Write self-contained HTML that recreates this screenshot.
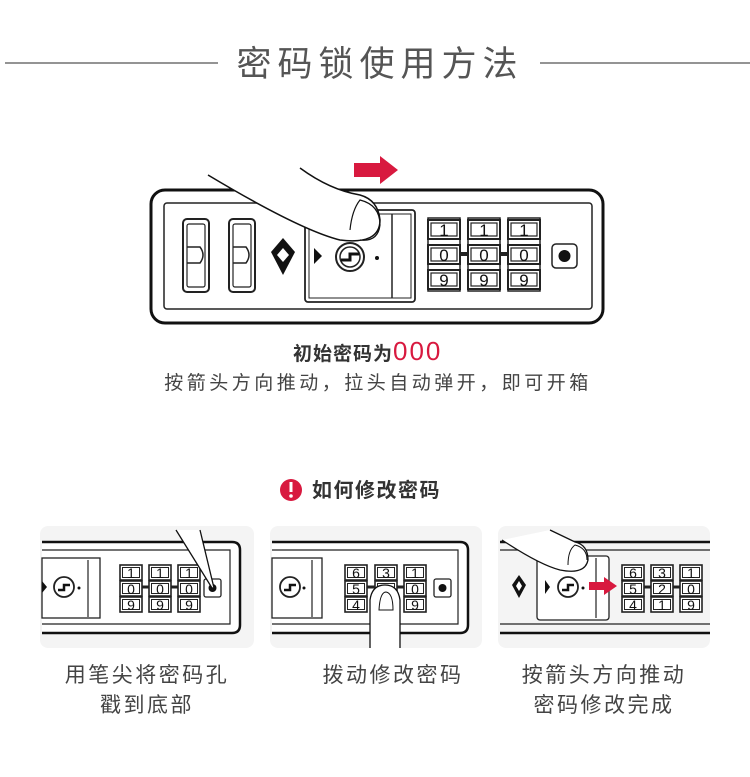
<!DOCTYPE html>
<html><head><meta charset="utf-8"><style>
body{margin:0;background:#fff;}
svg{display:block;font-family:"Liberation Sans","Noto Sans CJK SC",sans-serif;}
</style></head><body>
<svg width="750" height="777" viewBox="0 0 750 777">
<defs>
<g id="cell"><rect x="0" y="0" width="32" height="19" fill="#fff" stroke="#222" stroke-width="2"/><rect x="3" y="3" width="26" height="13" fill="#fff" stroke="#222" stroke-width="1.2"/></g>
<g id="scell"><rect x="0" y="0" width="22" height="15" fill="#fff" stroke="#222" stroke-width="1.6"/><rect x="2.5" y="2.5" width="17" height="10" fill="#fff" stroke="#222" stroke-width="1"/></g>
</defs>
<line x1="5" y1="63" x2="218" y2="63" stroke="#555" stroke-width="1.2"/>
<line x1="540" y1="63" x2="750" y2="63" stroke="#555" stroke-width="1.2"/>
<text x="380" y="76" text-anchor="middle" font-size="35" fill="#555" letter-spacing="6">密码锁使用方法</text>

<polygon points="354,163 380,163 380,156 398,170 380,184 380,177 354,177" fill="#d8193f"/>

<rect x="151" y="190" width="452" height="133" rx="14" fill="#fff" stroke="#111" stroke-width="3"/>
<rect x="164" y="203" width="428" height="106" rx="3" fill="none" stroke="#222" stroke-width="1.5"/>
<rect x="183" y="219" width="26" height="73" rx="4" fill="#fff" stroke="#222" stroke-width="2"/>
<rect x="187" y="224" width="18" height="63" rx="2" fill="none" stroke="#222" stroke-width="1.2"/>
<path d="M187 247 H200 Q206 255 200 263 H187" fill="none" stroke="#222" stroke-width="1.5"/>
<rect x="229" y="219" width="26" height="73" rx="4" fill="#fff" stroke="#222" stroke-width="2"/>
<rect x="233" y="224" width="18" height="63" rx="2" fill="none" stroke="#222" stroke-width="1.2"/>
<path d="M233 247 H246 Q252 255 246 263 H233" fill="none" stroke="#222" stroke-width="1.5"/>
<polygon points="283,238 295,252 283,275 271,252" fill="#111"/>
<polygon points="283,248 289,255 283,262 277,255" fill="#fff"/>
<rect x="305" y="210" width="110" height="92" rx="3" fill="#fff" stroke="#222" stroke-width="1.8"/>
<rect x="309" y="214" width="102" height="84" fill="none" stroke="#222" stroke-width="1"/>
<line x1="392" y1="214" x2="392" y2="298" stroke="#222" stroke-width="1.5"/>
<polygon points="314,248 322,256 314,264" fill="#111"/>
<circle cx="350" cy="257" r="14" fill="#fff" stroke="#222" stroke-width="2"/>
<circle cx="350" cy="257" r="10" fill="#fff" stroke="#222" stroke-width="1.5"/>
<path d="M341 260 H350 V254 H359" fill="none" stroke="#111" stroke-width="3"/>
<circle cx="377" cy="258" r="2" fill="#111"/>
<path d="M208 175 Q300 230 340 240 Q380 245 380 220 Q378 200 360 195 Q330 190 300 168" fill="#fff" stroke="#111" stroke-width="1.5"/>
<path d="M350 230 Q352 210 360 200 Q380 205 380 225 Q378 242 360 240" fill="none" stroke="#111" stroke-width="1.2"/>
<line x1="455" y1="254" x2="474" y2="254" stroke="#222" stroke-width="4"/>
<line x1="495" y1="254" x2="514" y2="254" stroke="#222" stroke-width="4"/>
<rect x="428" y="218" width="32" height="73" fill="#fff" stroke="#222" stroke-width="1.5"/>
<rect x="468" y="218" width="32" height="73" fill="#fff" stroke="#222" stroke-width="1.5"/>
<rect x="508" y="218" width="32" height="73" fill="#fff" stroke="#222" stroke-width="1.5"/>
<use href="#cell" x="428" y="220"/><use href="#cell" x="428" y="245"/><use href="#cell" x="428" y="270"/>
<use href="#cell" x="468" y="220"/><use href="#cell" x="468" y="245"/><use href="#cell" x="468" y="270"/>
<use href="#cell" x="508" y="220"/><use href="#cell" x="508" y="245"/><use href="#cell" x="508" y="270"/>
<g font-size="17" text-anchor="middle" fill="#111">
<text x="444" y="236">1</text><text x="484" y="236">1</text><text x="524" y="236">1</text>
<text x="444" y="261">0</text><text x="484" y="261">0</text><text x="524" y="261">0</text>
<text x="444" y="286">9</text><text x="484" y="286">9</text><text x="524" y="286">9</text>
</g>
<rect x="552" y="244" width="25" height="24" rx="4" fill="#fff" stroke="#222" stroke-width="1.5"/>
<circle cx="564.5" cy="256" r="6" fill="#111"/>

<text x="293" y="360" font-size="19" font-weight="bold" fill="#333" letter-spacing="1">初始密码为<tspan fill="#d8193f" font-weight="normal" font-size="26" letter-spacing="2">000</tspan></text>
<text x="378" y="389" text-anchor="middle" font-size="19" fill="#444" letter-spacing="3.5">按箭头方向推动，拉头自动弹开，即可开箱</text>

<circle cx="291" cy="490" r="11" fill="#d8193f"/>
<rect x="289.5" y="482" width="3" height="10" fill="#fff"/><circle cx="291" cy="496" r="1.8" fill="#fff"/>
<text x="312" y="497" font-size="20" font-weight="bold" fill="#333" letter-spacing="1.5">如何修改密码</text>

<rect x="40" y="526" width="214" height="122" rx="8" fill="#f4f4f4"/>
<rect x="270" y="526" width="212" height="122" rx="8" fill="#f4f4f4"/>
<rect x="498" y="526" width="212" height="122" rx="8" fill="#f4f4f4"/>

<g>
<path d="M42 542 H232 Q240 542 240 550 V625 Q240 633 232 633 H42" fill="#fff" stroke="#111" stroke-width="2.5"/>
<path d="M42 550 H230 V624 H42" fill="none" stroke="#222" stroke-width="1.2"/>
<rect x="42" y="558" width="58" height="60" fill="none" stroke="#222" stroke-width="1.3"/>
<line x1="88" y1="560" x2="88" y2="617" stroke="#222" stroke-width="1.2"/>
<polygon points="42,581 47,587 42,593" fill="#111"/>
<circle cx="64" cy="587" r="10" fill="#fff" stroke="#222" stroke-width="1.8"/>
<path d="M58 590 H64 V585 H70" fill="none" stroke="#111" stroke-width="2.5"/>
<circle cx="79" cy="588" r="1.5" fill="#111"/>
<line x1="140" y1="587" x2="152" y2="587" stroke="#222" stroke-width="3"/>
<line x1="170" y1="587" x2="180" y2="587" stroke="#222" stroke-width="3"/>
<use href="#scell" x="120" y="565"/><use href="#scell" x="120" y="581"/><use href="#scell" x="120" y="597"/>
<use href="#scell" x="149" y="565"/><use href="#scell" x="149" y="581"/><use href="#scell" x="149" y="597"/>
<use href="#scell" x="178" y="565"/><use href="#scell" x="178" y="581"/><use href="#scell" x="178" y="597"/>
<g font-size="14" text-anchor="middle" fill="#111">
<text x="131" y="578">1</text><text x="160" y="578">1</text><text x="189" y="578">1</text>
<text x="131" y="594">0</text><text x="160" y="594">0</text><text x="189" y="594">0</text>
<text x="131" y="610">9</text><text x="160" y="610">9</text><text x="189" y="610">9</text>
</g>
<rect x="204" y="579" width="17" height="18" rx="2" fill="#fff" stroke="#222" stroke-width="1.3"/>
<circle cx="212.5" cy="588" r="4" fill="#111"/>
<path d="M176 530 L212 588 L214 588 L200 530" fill="#fff" stroke="#111" stroke-width="1.3"/>
</g>

<g>
<path d="M272 542 H460 Q468 542 468 550 V625 Q468 633 460 633 H272" fill="#fff" stroke="#111" stroke-width="2.5"/>
<path d="M272 550 H458 V624 H272" fill="none" stroke="#222" stroke-width="1.2"/>
<rect x="272" y="558" width="50" height="60" fill="none" stroke="#222" stroke-width="1.3"/>
<line x1="312" y1="560" x2="312" y2="617" stroke="#222" stroke-width="1.2"/>
<circle cx="290" cy="587" r="10" fill="#fff" stroke="#222" stroke-width="1.8"/>
<path d="M284 590 H290 V585 H296" fill="none" stroke="#111" stroke-width="2.5"/>
<circle cx="304" cy="588" r="1.5" fill="#111"/>
<line x1="365" y1="587" x2="378" y2="587" stroke="#222" stroke-width="3"/>
<line x1="395" y1="587" x2="406" y2="587" stroke="#222" stroke-width="3"/>
<use href="#scell" x="345" y="565"/><use href="#scell" x="345" y="581"/><use href="#scell" x="345" y="597"/>
<use href="#scell" x="375" y="565"/><use href="#scell" x="375" y="581"/><use href="#scell" x="375" y="597"/>
<use href="#scell" x="404" y="565"/><use href="#scell" x="404" y="581"/><use href="#scell" x="404" y="597"/>
<g font-size="14" text-anchor="middle" fill="#111">
<text x="356" y="578">6</text><text x="386" y="578">3</text><text x="415" y="578">1</text>
<text x="356" y="594">5</text><text x="386" y="594">2</text><text x="415" y="594">0</text>
<text x="356" y="610">4</text><text x="415" y="610">9</text>
</g>
<rect x="434" y="579" width="17" height="18" rx="2" fill="#fff" stroke="#222" stroke-width="1.3"/>
<circle cx="442.5" cy="588" r="4" fill="#111"/>
<path d="M370 648 V600 Q372 585 385 585 Q398 585 400 600 V648" fill="#fff" stroke="#111" stroke-width="1.3"/>
<path d="M379 610 Q380 592 386 592 Q393 593 393 610 Z" fill="none" stroke="#111" stroke-width="1"/>
</g>

<g>
<path d="M500 542 H710 M500 633 H710" stroke="#111" stroke-width="2.5"/>
<path d="M500 550 H710 M500 624 H710" stroke="#222" stroke-width="1.2"/>
<polygon points="519,575 526,585 519,598 512,585" fill="#111"/>
<polygon points="519,581 522,586 519,591 516,586" fill="#fff"/>
<rect x="537" y="556" width="72" height="64" rx="3" fill="#fff" stroke="#222" stroke-width="1.3"/>
<line x1="596" y1="558" x2="596" y2="618" stroke="#222" stroke-width="1.2"/>
<polygon points="545,580 550,587 545,594" fill="#111"/>
<circle cx="568" cy="587" r="10" fill="#fff" stroke="#222" stroke-width="1.8"/>
<path d="M562 590 H568 V585 H574" fill="none" stroke="#111" stroke-width="2.5"/>
<circle cx="583" cy="588" r="1.5" fill="#111"/>
<polygon points="589,582 604,582 604,577 617,586 604,595 604,590 589,590" fill="#d8193f"/>
<path d="M502 540 Q540 565 560 570 Q585 575 588 560 Q588 545 575 542 L550 530" fill="#fff" stroke="#111" stroke-width="1.3"/>
<path d="M568 565 Q568 550 575 545 Q587 548 587 560" fill="none" stroke="#111" stroke-width="1"/>
<line x1="642" y1="587" x2="655" y2="587" stroke="#222" stroke-width="3"/>
<line x1="672" y1="587" x2="684" y2="587" stroke="#222" stroke-width="3"/>
<use href="#scell" x="622" y="565"/><use href="#scell" x="622" y="581"/><use href="#scell" x="622" y="597"/>
<use href="#scell" x="651" y="565"/><use href="#scell" x="651" y="581"/><use href="#scell" x="651" y="597"/>
<use href="#scell" x="680" y="565"/><use href="#scell" x="680" y="581"/><use href="#scell" x="680" y="597"/>
<g font-size="14" text-anchor="middle" fill="#111">
<text x="633" y="578">6</text><text x="662" y="578">3</text><text x="691" y="578">1</text>
<text x="633" y="594">5</text><text x="662" y="594">2</text><text x="691" y="594">0</text>
<text x="633" y="610">4</text><text x="662" y="610">1</text><text x="691" y="610">9</text>
</g>
</g>

<g font-size="21" fill="#444" text-anchor="middle" letter-spacing="2.5">
<text x="147" y="682">用笔尖将密码孔</text>
<text x="147" y="712">戳到底部</text>
<text x="393" y="682">拨动修改密码</text>
<text x="604" y="682">按箭头方向推动</text>
<text x="604" y="712">密码修改完成</text>
</g>
</svg>
</body></html>
